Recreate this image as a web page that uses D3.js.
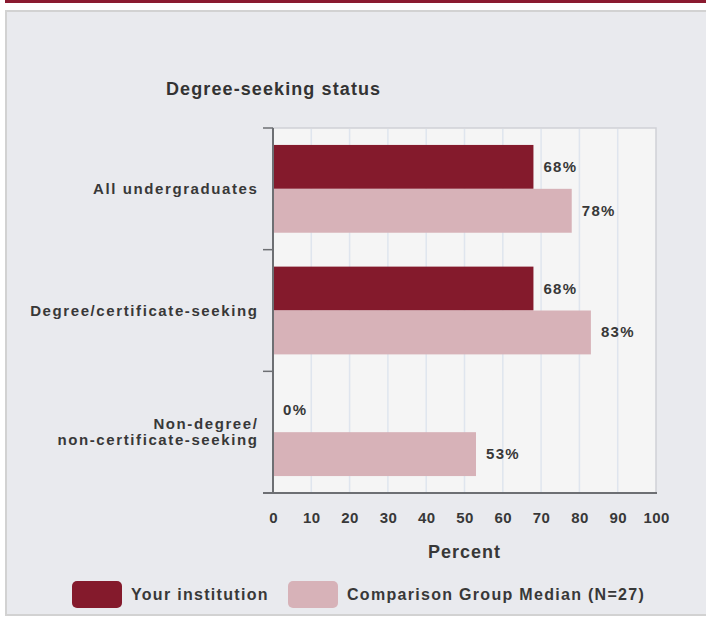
<!DOCTYPE html>
<html><head><meta charset="utf-8">
<script src="https://cdn.jsdelivr.net/npm/d3@7"></script>
<style>
body{margin:0;background:#fff;font-family:"Liberation Sans",Arial,sans-serif;}
svg text{font-family:"Liberation Sans",Arial,sans-serif;}
</style></head>
<body>
<svg id="c" width="706" height="618"></svg>
<script>
const categories = [["All undergraduates"], ["Degree/certificate-seeking"], ["Non-degree/", "non-certificate-seeking"]];
const seriesNames = ["Your institution", "Comparison Group Median (N=27)"];
const yourValues = [68, 68, 0];
const compValues = [78, 83, 53];
const xTicks = [0,10,20,30,40,50,60,70,80,90,100];
const title = "Degree-seeking status";
const xTitle = "Percent";
const colors = ["#841a2c", "#d7b2b8"];

const svg = d3.select("#c");
// top rule
svg.append("rect").attr("x",5).attr("y",0).attr("width",701).attr("height",3).attr("fill","#8a1a30");
// panel
svg.append("rect").attr("x",6).attr("y",11).attr("width",710).attr("height",604)
  .attr("fill","#e9eaee").attr("stroke","#d2d2d2").attr("stroke-width",2);

const x = d3.scaleLinear().domain([0,100]).range([273,656]);
const y = d3.scaleBand().domain(d3.range(categories.length)).range([128,493]);
const inner = d3.scaleBand().domain([0,1]).range([0,y.bandwidth()]).paddingOuter(0.386).paddingInner(0);

// plot bg
svg.append("rect").attr("x",x(0)).attr("y",128).attr("width",x(100)-x(0)).attr("height",493-128)
  .attr("fill","#f5f5f5").attr("stroke","#cfd1d6").attr("stroke-width",1.5);
// grid
svg.append("g").selectAll("line").data(xTicks.slice(1,-1)).join("line")
  .attr("x1",d=>x(d)).attr("x2",d=>x(d)).attr("y1",129).attr("y2",492)
  .attr("stroke","#dfe5ee").attr("stroke-width",1.5);

// bars
const data = categories.map((c,i)=>[yourValues[i], compValues[i]]);
const g = svg.append("g");
data.forEach((vals,i)=>{
  vals.forEach((v,j)=>{
    g.append("rect").attr("x",x(0)).attr("y",y(i)+inner(j)).attr("width",x(v)-x(0))
      .attr("height",inner.bandwidth()).attr("fill",colors[j]);
    g.append("text").attr("x",x(v)+10).attr("y",y(i)+inner(j)+inner.bandwidth()/2+5)
      .attr("font-size",15).attr("font-weight","bold").attr("fill","#383838")
      .style("letter-spacing","1.3px").text(v+"%");
  });
});

// left axis line and ticks
svg.append("line").attr("x1",x(0)).attr("x2",x(0)).attr("y1",128).attr("y2",493).attr("stroke","#6d6f73").attr("stroke-width",2);
const bounds = d3.range(categories.length+1).map(i=> i<categories.length ? y(i) : 493);
svg.append("g").selectAll("line").data(bounds).join("line")
  .attr("x1",263).attr("x2",x(0)).attr("y1",d=>d).attr("y2",d=>d).attr("stroke","#6d6f73").attr("stroke-width",1.5);
// bottom axis
svg.append("line").attr("x1",263).attr("x2",x(100)+1).attr("y1",493).attr("y2",493).attr("stroke","#6d6f73").attr("stroke-width",2);

// x tick labels
const xa = d3.axisBottom(x).tickValues(xTicks).tickSize(0).tickPadding(0);
const ax = svg.append("g").attr("transform","translate(0,523)").call(xa);
ax.select(".domain").remove();
ax.selectAll("text").attr("font-size",15).attr("font-weight","bold").attr("fill","#383838").attr("dy","0")
  .style("letter-spacing","0.4px");

// category labels
categories.forEach((lines,i)=>{
  const cy = y(i)+inner(1);
  const t = svg.append("text").attr("text-anchor","end").attr("font-size",15).attr("font-weight","bold")
    .attr("fill","#383838").style("letter-spacing","1.6px");
  const n = lines.length;
  lines.forEach((l,k)=>{
    t.append("tspan").attr("x",258.5).attr("y",cy + (k-(n-1)/2)*16.5 + 5).text(l);
  });
});

// titles
svg.append("text").attr("x",166).attr("y",95).attr("font-size",18).attr("font-weight","bold")
  .attr("fill","#333").style("letter-spacing","1.1px").text(title);
svg.append("text").attr("x",x(50)).attr("y",558).attr("text-anchor","middle").attr("font-size",18)
  .attr("font-weight","bold").attr("fill","#383838").style("letter-spacing","1px").text(xTitle);

// legend
const legX = [72, 288];
seriesNames.forEach((s,j)=>{
  svg.append("rect").attr("x",legX[j]).attr("y",581).attr("width",50).attr("height",27).attr("rx",5)
    .attr("fill",colors[j]);
  svg.append("text").attr("x",legX[j]+59).attr("y",599.5).attr("font-size",16).attr("font-weight","bold")
    .attr("fill","#383838").style("letter-spacing","1.3px").text(s);
});
</script>
</body></html>
